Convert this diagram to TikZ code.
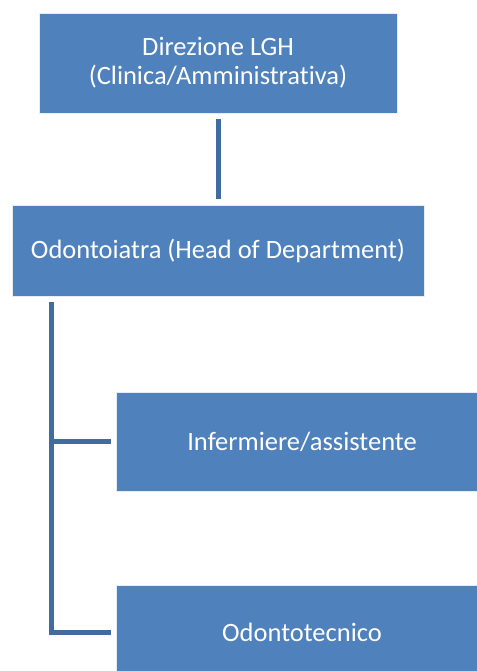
\documentclass[tikz,border=0pt]{standalone}
\usepackage{fontspec}
\setmainfont{Carlito}[Ligatures=NoCommon]
\usepackage{tikz}
\usetikzlibrary{positioning, calc}

\definecolor{boxblue}{RGB}{79,129,189}
\definecolor{lineblue}{RGB}{65,108,160}

\begin{document}
\begin{tikzpicture}[x=1pt, y=-1pt,
    unit/.style={rectangle, fill=boxblue, draw=white!85!boxblue, line width=0.8pt,
        text=white, align=center, inner sep=0pt, font=\fontsize{26.5}{29}\selectfont},
    link/.style={draw=lineblue, line width=5pt}]
    \useasboundingbox (0,0) rectangle (476,671);

    \node[unit, minimum width=358pt, minimum height=100pt] (dir) at (218,63) {Direzione LGH\\(Clinica/Amministrativa)};
    \node[unit, minimum width=412pt, minimum height=91pt] (odo) at (218,250.5) {Odontoiatra (Head of Department)};
    \node[unit, minimum width=372pt, minimum height=99pt] (inf) at (302,441.5) {Infermiere/assistente};
    \node[unit, minimum width=372pt, minimum height=94pt] (odt) at (302,632) {Odontotecnico};

    \coordinate (trunk) at (51,302);

    \draw[link, shorten <=6pt, shorten >=6pt] (dir) -- (odo);
    \draw[link, shorten >=5pt] (trunk) |- (inf.west);
    \draw[link, shorten >=5pt] (trunk) |- (odt.west);
\end{tikzpicture}
\end{document}
